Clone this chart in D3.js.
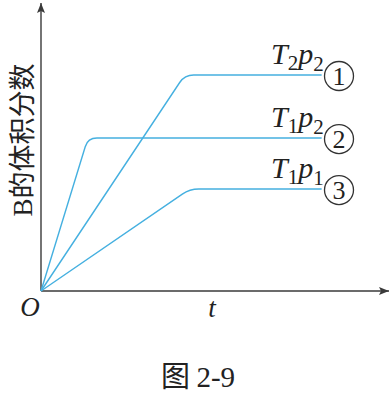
<!DOCTYPE html>
<html>
<head>
<meta charset="utf-8">
<script src="https://cdn.jsdelivr.net/npm/d3@7"></script>
<style>
  html, body { margin: 0; padding: 0; background: #fff; }
  svg { display: block; }
</style>
</head>
<body>
<svg id="chart" width="391" height="394"></svg>
<script>
// series: start at origin, rise to a corner, then level off
const seriesNames = ['①', '②', '③'];
const seriesT = ['2', '1', '1'];
const seriesP = ['2', '2', '1'];
const cornerT = [5.12, 1.67, 5.3];
const plateauB = [7.5, 5.31, 3.54];
const endT = 10;
const yLabel = '的体积分数';
const xLabel = 't';
const originLabel = 'O';
const caption = ['图', '2-9'];

const width = 391, height = 394;
const svg = d3.select('#chart');

const x = d3.scaleLinear().domain([0, 12.4]).range([41, 389]);
const y = d3.scaleLinear().domain([0, 10]).range([291, 3]);

const axisColor = '#3a3a3a';
const lineColor = '#45b0e0';
const serif = '"Liberation Serif", "DejaVu Serif", serif';
const cjk = '"Noto Sans CJK SC", "Noto Serif CJK SC", sans-serif';

// axes with arrows
svg.append('defs').append('marker')
    .attr('id', 'arrow')
    .attr('viewBox', '0 0 10 8')
    .attr('refX', 10)
    .attr('refY', 4)
    .attr('markerWidth', 10)
    .attr('markerHeight', 8)
    .attr('markerUnits', 'userSpaceOnUse')
    .attr('orient', 'auto')
    .append('path')
    .attr('d', 'M0,0 L10,4 L0,8 L2,4 Z')
    .attr('fill', axisColor);

svg.append('line')
    .attr('x1', x(0)).attr('y1', y(0))
    .attr('x2', x(0)).attr('y2', y(10))
    .attr('stroke', axisColor).attr('stroke-width', 1.4)
    .attr('marker-end', 'url(#arrow)');

svg.append('line')
    .attr('x1', x(0)).attr('y1', y(0))
    .attr('x2', x(12.4)).attr('y2', y(0))
    .attr('stroke', axisColor).attr('stroke-width', 1.4)
    .attr('marker-end', 'url(#arrow)');

// polyline with rounded corners
function roundedPath(pts, r) {
    const p = pts.map(d => [x(d[0]), y(d[1])]);
    let s = `M${p[0][0]},${p[0][1]}`;
    for (let i = 1; i < p.length - 1; i++) {
        const a = p[i - 1], b = p[i], c = p[i + 1];
        const l1 = Math.hypot(b[0] - a[0], b[1] - a[1]);
        const l2 = Math.hypot(c[0] - b[0], c[1] - b[1]);
        const q1 = [b[0] - (b[0] - a[0]) * r / l1, b[1] - (b[1] - a[1]) * r / l1];
        const q2 = [b[0] + (c[0] - b[0]) * r / l2, b[1] + (c[1] - b[1]) * r / l2];
        s += `L${q1[0]},${q1[1]}Q${b[0]},${b[1]} ${q2[0]},${q2[1]}`;
    }
    const last = p[p.length - 1];
    s += `L${last[0]},${last[1]}`;
    return s;
}

seriesNames.forEach((name, i) => {
    const pts = [[0, 0], [cornerT[i], plateauB[i]], [endT, plateauB[i]]];
    svg.append('path')
        .attr('d', roundedPath(pts, 9))
        .attr('fill', 'none')
        .attr('stroke', lineColor)
        .attr('stroke-width', 1.4);

    const py = y(plateauB[i]);
    const lab = svg.append('text')
        .attr('x', x(endT) + 2)
        .attr('y', py - 11)
        .attr('text-anchor', 'end')
        .attr('font-family', serif)
        .attr('font-size', 30)
        .attr('fill', '#222');
    lab.append('tspan').attr('font-style', 'italic').text('T');
    lab.append('tspan').attr('font-size', 21).attr('dy', 6).text(seriesT[i]);
    lab.append('tspan').attr('font-style', 'italic').attr('dy', -6).text('p');
    lab.append('tspan').attr('font-size', 21).attr('dy', 7).text(seriesP[i]);

    svg.append('circle')
        .attr('cx', 339).attr('cy', py + 1).attr('r', 14.5)
        .attr('fill', 'none').attr('stroke', '#333').attr('stroke-width', 1.3);
    svg.append('text')
        .attr('x', 339).attr('y', py + 10)
        .attr('text-anchor', 'middle')
        .attr('font-family', serif)
        .attr('font-size', 26)
        .attr('fill', '#222')
        .text(String(i + 1));
});

// labels
const yl = svg.append('text')
    .attr('transform', 'translate(32,140) rotate(-90)')
    .attr('text-anchor', 'middle')
    .attr('font-size', 27)
    .attr('fill', '#222');
yl.append('tspan').attr('font-family', serif).text('B');
yl.append('tspan').attr('font-family', cjk).text(yLabel);

svg.append('text')
    .attr('x', 30).attr('y', 316)
    .attr('text-anchor', 'middle')
    .attr('font-family', serif)
    .attr('font-style', 'italic')
    .attr('font-size', 27)
    .attr('fill', '#222')
    .text(originLabel);

svg.append('text')
    .attr('x', 212).attr('y', 317)
    .attr('text-anchor', 'middle')
    .attr('font-family', serif)
    .attr('font-style', 'italic')
    .attr('font-size', 27)
    .attr('fill', '#222')
    .text(xLabel);

const cap = svg.append('text')
    .attr('x', 198).attr('y', 387)
    .attr('text-anchor', 'middle')
    .attr('font-size', 29)
    .attr('fill', '#222');
cap.append('tspan').attr('font-family', cjk).text(caption[0] + ' ');
cap.append('tspan').attr('font-family', serif).text(caption[1]);
</script>
</body>
</html>
